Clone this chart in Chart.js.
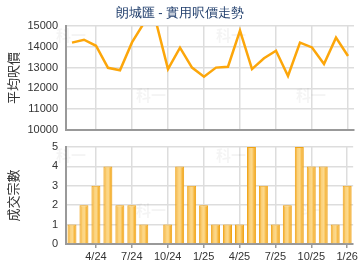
<!DOCTYPE html>
<html>
<head>
<meta charset="utf-8">
<script src="https://cdn.jsdelivr.net/npm/chart.js@4/dist/chart.umd.min.js"></script>
<style>
    body { margin: 0; background: #fff; }
    #wrap { position: relative; width: 360px; height: 270px; font-family: "Liberation Sans", Arial, sans-serif; }
    #title { position: absolute; left: 0; top: 4px; width: 360px; text-align: center; font-size: 13px; color: #1f3d6b; }
    #price-chart { position: absolute; left: 0; top: 0; }
    #count-chart { position: absolute; left: 0; top: 135px; }
</style>
</head>
<body>
<div id="wrap">
    <canvas id="price-chart" width="360" height="135"></canvas>
    <canvas id="count-chart" width="360" height="135"></canvas>
    <div id="title">朗城匯 - 實用呎價走勢</div>
</div>
<script>
// months 2/24 .. 1/26
const months = ['2/24', '3/24', '4/24', '5/24', '6/24', '7/24', '8/24', '9/24', '10/24', '11/24', '12/24',
    '1/25', '2/25', '3/25', '4/25', '5/25', '6/25', '7/25', '8/25', '9/25', '10/25', '11/25', '12/25', '1/26'];
const shownTicks = ['4/24', '7/24', '10/24', '1/25', '4/25', '7/25', '10/25', '1/26'];

// average price per sq ft (two values run off the top of the axis)
const avgPrice = [14200, 14340, 14050, 12990, 12870, 14210, 15150, 15200, 12930, 13960, 13000,
    12560, 13000, 13040, 14780, 12930, 13450, 13810, 12600, 14200, 13970, 13170, 14440, 13560];

// number of transactions
const deals = [1, 2, 3, 4, 2, 2, 1, 0, 1, 4, 3, 2, 1, 1, 1, 5, 3, 1, 2, 5, 4, 4, 1, 3];

const gridColor = '#dddddd';
const axisColor = '#999999';
const tickFont = { family: '"Liberation Sans", Arial, sans-serif', size: 11 };

const isShown = ctx => ctx.tick && shownTicks.includes(months[ctx.tick.value]);

// fixed y axis width, no extra room for label overhang
function fitY(scale) {
    scale.width = 66;
    scale.paddingTop = 0;
    scale.paddingBottom = 0;
}

// faint "科一" watermark
const watermark = {
    id: 'watermark',
    beforeDatasetsDraw(chart, args, opts) {
        const c = chart.ctx;
        c.save();
        c.fillStyle = 'rgba(0,0,0,0.045)';
        c.font = 'bold 15px "Noto Sans CJK TC", sans-serif';
        c.textBaseline = 'middle';
        opts.spots.forEach(([x, y]) => c.fillText('科一', x, y));
        c.restore();
    }
};

function barFill(ctx) {
    const chart = ctx.chart;
    if (!chart.chartArea || ctx.dataIndex === undefined) return '#f8c04a';
    const x = chart.scales.x.getPixelForValue(ctx.dataIndex);
    const g = chart.ctx.createLinearGradient(x - 4.5, 0, x + 4.5, 0);
    g.addColorStop(0, '#ee9e12');
    g.addColorStop(0.3, '#fbd17a');
    g.addColorStop(0.55, '#fcd98d');
    g.addColorStop(0.8, '#f6b53a');
    g.addColorStop(1, '#ec980c');
    return g;
}

new Chart(document.getElementById('price-chart'), {
    type: 'line',
    data: {
        labels: months,
        datasets: [{
            data: avgPrice,
            borderColor: '#fca60a',
            borderWidth: 2.5,
            pointRadius: 0,
            tension: 0,
            clip: 0
        }]
    },
    plugins: [watermark],
    options: {
        responsive: false,
        animation: false,
        layout: { padding: { top: 26, right: 6, bottom: 0, left: 0 } },
        plugins: {
            legend: { display: false },
            tooltip: { enabled: false },
            watermark: { spots: [[56, 35], [136, 95], [216, 35], [296, 95]] }
        },
        scales: {
            x: {
                offset: true,
                afterFit(scale) { scale.height = 5; },
                ticks: { display: false, autoSkip: false },
                grid: {
                    offset: false,
                    color: ctx => isShown(ctx) ? gridColor : 'rgba(0,0,0,0)',
                    lineWidth: 1.5,
                    drawTicks: false
                },
                border: { color: axisColor, width: 2 }
            },
            y: {
                min: 10000,
                max: 15000,
                afterFit: fitY,
                ticks: { stepSize: 1000, color: '#333', font: tickFont, padding: 8, callback: v => String(v) },
                grid: { color: gridColor, lineWidth: 1.5, drawTicks: false },
                border: { color: axisColor, width: 2 },
                title: {
                    display: true,
                    text: '平均呎價',
                    color: '#333',
                    font: { family: '"Noto Sans CJK TC", sans-serif', size: 13 },
                    padding: { top: 5, bottom: 0 }
                }
            }
        }
    }
});

new Chart(document.getElementById('count-chart'), {
    type: 'bar',
    data: {
        labels: months,
        datasets: [{
            data: deals,
            backgroundColor: barFill,
            borderColor: '#f0a416',
            borderWidth: 1,
            barPercentage: 0.75,
            categoryPercentage: 1
        }]
    },
    plugins: [watermark],
    options: {
        responsive: false,
        animation: false,
        layout: { padding: { top: 12, right: 6, bottom: 6, left: 0 } },
        plugins: {
            legend: { display: false },
            tooltip: { enabled: false },
            watermark: { spots: [[56, 20], [136, 75], [216, 20], [296, 75]] }
        },
        scales: {
            x: {
                afterFit(scale) { scale.height = 20; },
                ticks: {
                    autoSkip: false,
                    maxRotation: 0,
                    color: '#333',
                    font: tickFont,
                    padding: 2,
                    callback: (v, i) => shownTicks.includes(months[i]) ? months[i] : ''
                },
                grid: {
                    offset: false,
                    color: ctx => isShown(ctx) ? gridColor : 'rgba(0,0,0,0)',
                    tickColor: ctx => isShown(ctx) ? axisColor : 'rgba(0,0,0,0)',
                    lineWidth: 1.5,
                    tickLength: 4
                },
                border: { color: axisColor, width: 2 }
            },
            y: {
                min: 0,
                max: 5,
                afterFit: fitY,
                ticks: { stepSize: 1, color: '#333', font: tickFont, padding: 8 },
                grid: { color: gridColor, lineWidth: 1.5, drawTicks: false },
                border: { color: axisColor, width: 2 },
                title: {
                    display: true,
                    text: '成交宗數',
                    color: '#333',
                    font: { family: '"Noto Sans CJK TC", sans-serif', size: 13 },
                    padding: { top: 5, bottom: 0 }
                }
            }
        }
    }
});
</script>
</body>
</html>
